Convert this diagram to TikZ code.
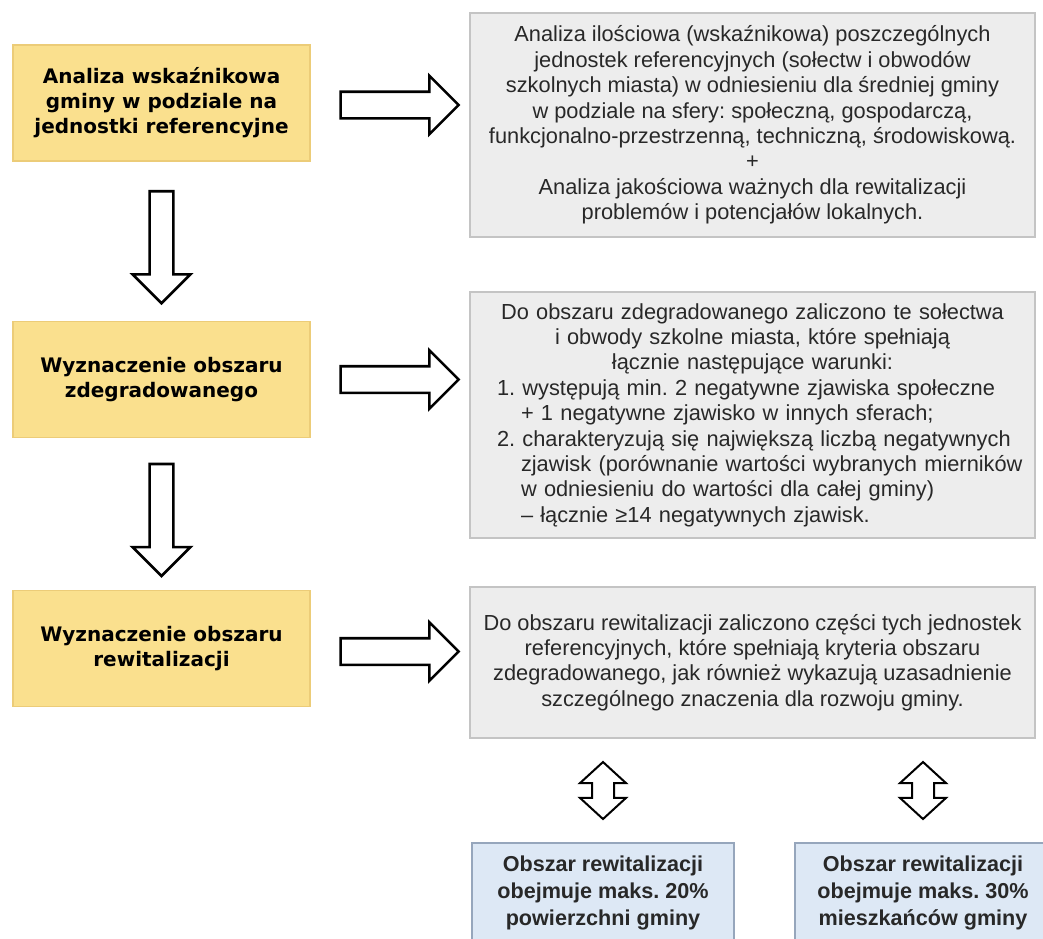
\documentclass[tikz,border=0pt]{standalone}
\usepackage{fontspec}
\setmainfont{Liberation Sans}
\newfontfamily\headfont{DejaVu Sans}
\usetikzlibrary{shapes.arrows}
\usetikzlibrary{calc}

\definecolor{stageyellow}{RGB}{250,224,142}
\definecolor{stageedge}{RGB}{236,204,120}
\definecolor{descgray}{RGB}{237,237,237}
\definecolor{descedge}{RGB}{196,196,196}
\definecolor{limitblue}{RGB}{221,232,245}
\definecolor{limitedge}{RGB}{150,166,188}
\definecolor{txtgray}{RGB}{40,40,40}

\newcommand{\listind}{\hspace*{12pt}}
\frenchspacing

\begin{document}
\begin{tikzpicture}[x=0.5pt,y=-0.5pt]

\tikzset{stage/.style={draw=stageedge,fill=stageyellow,line width=0.6pt,
  minimum width=148.5pt,minimum height=58pt,align=center,text=black,
  font={\headfont\bfseries\fontsize{10}{12.5}\selectfont}}}

\tikzset{desc/.style={draw=descedge,fill=descgray,line width=0.7pt,
  minimum width=282.5pt,align=center,text=txtgray,
  font={\fontsize{10.9}{12.7}\selectfont}}}

\tikzset{limit/.style={draw=limitedge,fill=limitblue,line width=0.7pt,
  minimum height=50pt,align=center,text=txtgray,
  font={\bfseries\fontsize{10.8}{13.3}\selectfont}}}

\tikzset{rarrow/.style={single arrow,draw=black,fill=white,line width=1.3pt,
  inner sep=0pt,inner ysep=6pt,minimum height=59pt,
  single arrow head extend=8pt,single arrow tip angle=90}}

\tikzset{darrow/.style={single arrow,draw=black,fill=white,line width=1.3pt,
  inner sep=0pt,inner ysep=5.3pt,minimum height=56pt,rotate=-90,
  single arrow head extend=8.5pt,single arrow tip angle=90}}

\tikzset{bothway/.style={double arrow,draw=black,fill=white,line width=1pt,
  inner sep=0pt,inner ysep=5pt,minimum height=28.5pt,rotate=90,
  double arrow head extend=6pt,double arrow tip angle=95}}

\useasboundingbox (0,0) rectangle (1043,938);
\clip (0,0) rectangle (1043,938);

%left column
\node[stage] (ana) at (161.5,103) {Analiza wskaźnikowa\\gminy w podziale na\\jednostki referencyjne};
\node[stage] (zdeg) at (161.5,379.5) {Wyznaczenie obszaru\\zdegradowanego};
\node[stage] (rewit) at (161.5,648.5) {Wyznaczenie obszaru\\rewitalizacji};

%right column
\node[desc,minimum height=112pt] (ilosc) at (752.5,125) {Analiza ilościowa (wskaźnikowa) poszczególnych\\
jednostek referencyjnych (sołectw i obwodów\\
szkolnych miasta) w odniesieniu dla średniej gminy\\
w podziale na sfery: społeczną, gospodarczą,\\
funkcjonalno-przestrzenną, techniczną, środowiskową.\\
+\\
Analiza jakościowa ważnych dla rewitalizacji\\
problemów i potencjałów lokalnych.};

\node[desc,minimum height=123pt,text width=255.5pt,inner xsep=13.5pt,align=left] (warunki) at (752.5,415) {\centering
Do obszaru zdegradowanego zaliczono te sołectwa\\
i obwody szkolne miasta, które spełniają\\
łącznie następujące warunki:\par\raggedright
\mbox{1. występują min. 2 negatywne zjawiska społeczne}\\
\mbox{\listind+ 1 negatywne zjawisko w innych sferach;}\\
\mbox{2. charakteryzują się największą liczbą negatywnych}\\
\mbox{\listind zjawisk (porównanie wartości wybranych mierników}\\
\mbox{\listind w odniesieniu do wartości dla całej gminy)}\\
\mbox{\listind – łącznie ≥14 negatywnych zjawisk.}};

\node[desc,minimum height=75.5pt] (kryt) at (752.5,662.5) {Do obszaru rewitalizacji zaliczono części tych jednostek\\
referencyjnych, które spełniają kryteria obszaru\\
zdegradowanego, jak również wykazują uzasadnienie\\
szczególnego znaczenia dla rozwoju gminy.};

%limits
\node[limit,minimum width=131pt] (pow) at (603,893) {Obszar rewitalizacji\\obejmuje maks. 20\%\\powierzchni gminy};
\node[limit,minimum width=128pt] (mies) at (923,893) {Obszar rewitalizacji\\obejmuje maks. 30\%\\mieszkańców gminy};

%arrows right
\node[rarrow] (r1) at ($(ana.east)!.5!(ana.east -| ilosc.west)+(3,2)$) {};
\node[rarrow] (r2) at ($(zdeg.east)!.5!(zdeg.east -| warunki.west)+(3,0)$) {};
\node[rarrow] (r3) at ($(rewit.east)!.5!(rewit.east -| kryt.west)+(3,3)$) {};

%arrows down
\node[darrow] (d1) at ($(ana.south)!.5!(zdeg.north)$) {};
\node[darrow] (d2) at ($(zdeg.south)!.5!(rewit.north)$) {};

%double arrows
\node[bothway] (b1) at ($(pow.north)!.5!(pow.north |- kryt.south)$) {};
\node[bothway] (b2) at ($(mies.north)!.5!(mies.north |- kryt.south)$) {};

\end{tikzpicture}
\end{document}
